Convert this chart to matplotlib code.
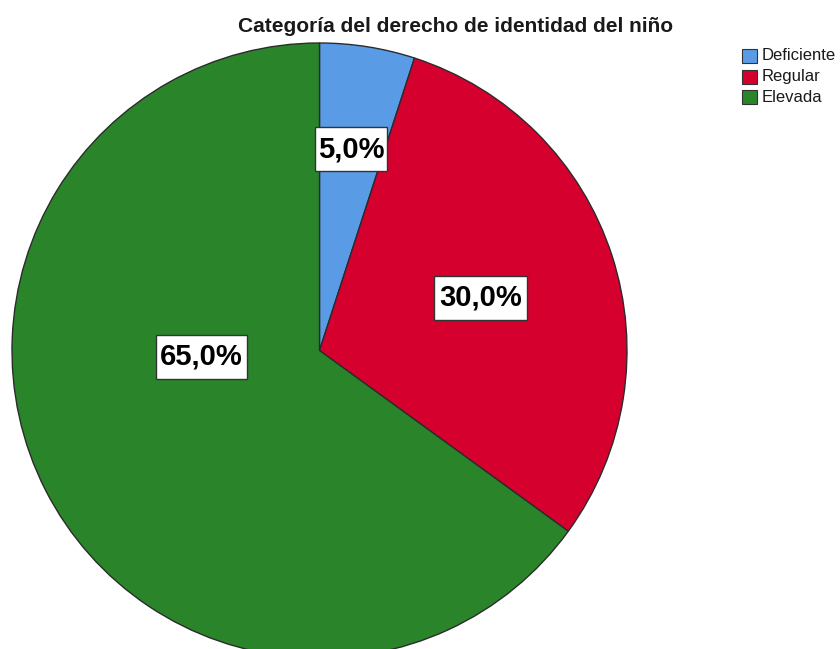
import matplotlib

matplotlib.use("Agg")

import matplotlib.pyplot as plt
from matplotlib.patches import Rectangle

plt.rcParams["font.family"] = ["Liberation Sans", "DejaVu Sans"]

# datos del gráfico
categorias = ["Deficiente", "Regular", "Elevada"]
porcentajes = [5.0, 30.0, 65.0]
colores = ["#5a9be6", "#d6002f", "#2a852a"]
titulo = "Categoría del derecho de identidad del niño"

W, H = 840, 649


def etiqueta(valor):
    return f"{valor:.1f}%".replace(".", ",")


fig = plt.figure(figsize=(W / 100, H / 100), dpi=100)
ax = fig.add_axes([0, 0, 1, 1])

# pastel (coordenadas en pixeles, y hacia arriba)
centro = (319.5, H - 350.5)
wedges, _ = ax.pie(
    porcentajes,
    colors=colores,
    startangle=90,
    counterclock=False,
    center=centro,
    radius=307.5,
    wedgeprops=dict(edgecolor="#2b2b2b", linewidth=1.0),
    frame=True,
)
ax.set_xlim(0, W)
ax.set_ylim(0, H)
ax.set_aspect("equal")
ax.axis("off")

# etiquetas con caja blanca (centro de la caja y tamaño en pixeles)
pos_etiquetas = [(351, 149), (480.5, 298), (201.5, 356.5)]
ancho_cajas = [72, 93, 91]
for valor, (x, y), ancho in zip(porcentajes, pos_etiquetas, ancho_cajas):
    ax.add_patch(Rectangle((x - ancho / 2, H - y - 22), ancho, 44,
                           facecolor="white", edgecolor="#333333",
                           linewidth=1.0, zorder=3))
    ax.text(x, H - y, etiqueta(valor), ha="center", va="center",
            fontsize=21, fontweight="bold", color="black", zorder=4)

ax.text(455.5, H - 32, titulo, ha="center", va="baseline",
        fontsize=15, fontweight="bold", color="#1a1a1a")

# leyenda
for i, (cat, col) in enumerate(zip(categorias, colores)):
    y = 56 + i * 20.5
    ax.add_patch(Rectangle((742, H - y - 7), 15, 14, facecolor=col,
                           edgecolor="#333333", linewidth=0.8))
    ax.text(762, H - y, cat, ha="left", va="center", fontsize=12,
            color="#1a1a1a")

fig.savefig("out.png", dpi=100, facecolor="white")
